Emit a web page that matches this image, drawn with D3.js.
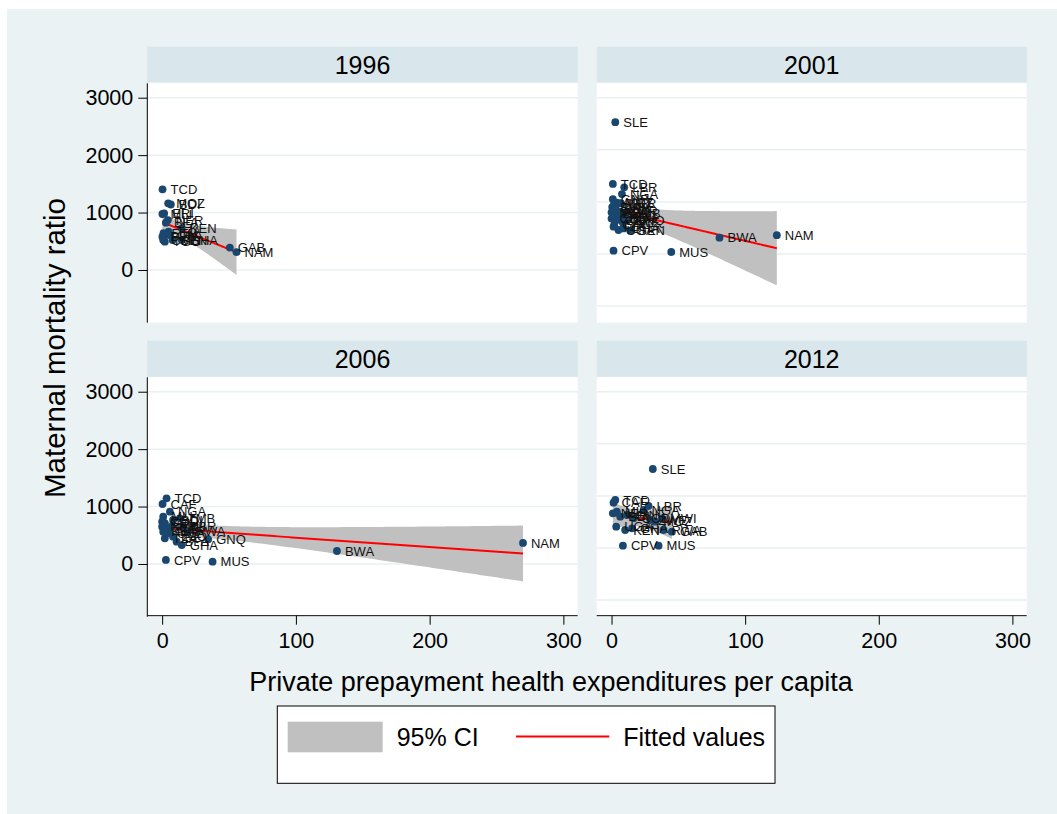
<!DOCTYPE html>
<html><head><meta charset="utf-8">
<script src="https://cdn.jsdelivr.net/npm/d3@7"></script>
<style>body{margin:0;background:#fff}svg{display:block}text{font-family:"Liberation Sans",Arial,sans-serif}</style>
</head><body><svg id="c" width="1057" height="814"></svg>
<script>
// ---------- data ----------
const years = ["1996", "2001", "2006", "2012"];

const codes1996 = ["TCD","MOZ","BDI","ERI","MLI","NER","BFA","KEN","TZA","ETH","CIV","BEN","CMR","SEN","TGO","GHA","GAB","NAM"];
const x1996     = [0.3, 4.5, 6.5, 1.5, 0.2, 4.3, 2.8, 14.7, 4.8, 1.0, 5.2, 0.2, 0.8, 7.8, 2.0, 14.7, 50.6, 55.6];
const y1996     = [1405,1160,1140, 985, 975, 870, 824, 726, 667, 640, 609, 580, 522, 522, 493, 522, 390, 310];

const codes2001 = ["SLE","TCD","LBR","NGA","AGO","MOZ","NER","GNB","MLI","ETH","BFA","CMR","ZMB","COD","CAF","KEN","GNQ","RWA","BEN","TGO","ZWE","GIN","TZA","UGA","GHA","SEN","CPV","MUS","BWA","NAM"];
const x2001     = [2.8, 1.0, 9.5, 7.8, 2.0, 4.0, 7.0, 1.0, 0.0, 1.5, 2.8, 6.5, 10.2, 0.0, 4.0, 7.5, 11.5, 0.5, 3.0, 6.0, 8.5, 2.0, 1.5, 5.2, 9.0, 14.0, 1.5, 44.7, 80.8, 123.7];
const y2001     = [2530,1344,1280,1150, 975, 985, 975,1050, 800, 780, 790, 810, 780, 680, 650, 685, 640, 900, 870, 720, 600, 560, 524, 460, 490, 447, 63, 38, 313, 360];

const codes2006 = ["TCD","CAF","NGA","MLI","BDI","ZMB","COD","ETH","NER","SLE","MWI","LBR","KEN","UGA","TZA","LSO","BFA","GHA","RWA","GNQ","CPV","MUS","BWA","NAM"];
const x2006     = [3.3, 0.3, 5.8, 0.8, 8.2, 13.2, 0.0, 2.0, 0.0, 3.3, 7.0, 15.7, 0.8, 5.2, 2.0, 8.2, 10.8, 14.7, 19.2, 34.4, 2.8, 37.7, 130.7, 269.8];
const y2006     = [1144,1045, 911, 824, 766, 796, 737, 709, 650, 621, 650, 650, 563, 534, 447, 475, 388, 330, 563, 430, 70, 40, 226, 366];

const codes2012 = ["SLE","TCD","CAF","NER","MLI","BDI","GIN","COD","NGA","LBR","ZWE","MOZ","MWI","UGA","KEN","GHA","RWA","GAB","CPV","MUS"];
const x2012     = [30.9, 2.8, 1.5, 1.0, 4.0, 6.5, 11.5, 16.5, 24.0, 27.7, 29.0, 32.7, 37.7, 3.5, 10.2, 15.3, 38.9, 45.2, 8.5, 35.2];
const y2012     = [1516, 921, 870, 666, 697, 601, 633, 570, 729, 806, 537, 505, 570, 409, 345, 378, 345, 313, 44, 44];

const xTicks = [0, 100, 200, 300];
const yTicks = [0, 1000, 2000, 3000];
const yGridRight = [-1000, 0, 1000, 2000, 3000];
const legendLabels = ["95% CI", "Fitted values"];
const xTitle = "Private prepayment health expenditures per capita";
const yTitle = "Maternal mortality ratio";

// ---------- layout ----------
const FONT = '"Liberation Sans", Arial, sans-serif';
const svg = d3.select("#c");
svg.append("rect").attr("x",7).attr("y",9).attr("width",1050).attr("height",805).attr("fill","#eaf2f3");

const cols = [{x0:147.3,x1:577.7,yDom:[-918,3251],grid:yTicks},
              {x0:596.7,x1:1026.7,yDom:[-1319,3276],grid:yGridRight}];
const rows = [{st:46.7,sb:82.3,pt:83.3,pb:322.7},{st:340.7,sb:376.7,pt:377.3,pb:616.7}];
const panels = [
  {year:years[0],codes:codes1996,xs:x1996,ys:y1996,c:0,r:0},
  {year:years[1],codes:codes2001,xs:x2001,ys:y2001,c:1,r:0},
  {year:years[2],codes:codes2006,xs:x2006,ys:y2006,c:0,r:1},
  {year:years[3],codes:codes2012,xs:x2012,ys:y2012,c:1,r:1}
];

function tQuant(df){
  const z=1.959964;
  const g1=(z**3+z)/4, g2=(5*z**5+16*z**3+3*z)/96, g3=(3*z**7+19*z**5+17*z**3-15*z)/384;
  return z+g1/df+g2/df**2+g3/df**3;
}
function lfitci(xs,ys){
  const n=xs.length, mx=d3.mean(xs), my=d3.mean(ys);
  let sxx=0,sxy=0; xs.forEach((x,i)=>{sxx+=(x-mx)**2; sxy+=(x-mx)*(ys[i]-my);});
  const b=sxy/sxx, a=my-b*mx;
  let sse=0; xs.forEach((x,i)=>{sse+=(ys[i]-a-b*x)**2;});
  const s=Math.sqrt(sse/(n-2)), t=tQuant(n-2);
  const [lo,hi]=d3.extent(xs);
  return d3.range(101).map(k=>{
    const x=lo+(hi-lo)*k/100, yh=a+b*x, se=s*Math.sqrt(1/n+(x-mx)**2/sxx);
    return {x, yh, lo:yh-t*se, hi:yh+t*se};
  });
}

panels.forEach(p=>{
  const C=cols[p.c], R=rows[p.r];
  const xs=d3.scaleLinear().domain([-11.1,310.7]).range([C.x0,C.x1]);
  const ys=d3.scaleLinear().domain(C.yDom).range([R.pb,R.pt]);
  const g=svg.append("g");
  // strip
  g.append("rect").attr("x",C.x0).attr("y",R.st).attr("width",C.x1-C.x0).attr("height",R.sb-R.st).attr("fill","#d9e6eb");
  g.append("text").attr("x",(C.x0+C.x1)/2).attr("y",R.st+27.3).attr("text-anchor","middle")
    .attr("font-size",25).attr("fill","#000").text(p.year);
  // plot region
  g.append("rect").attr("x",C.x0).attr("y",R.pt).attr("width",C.x1-C.x0).attr("height",R.pb-R.pt).attr("fill","#fff");
  g.selectAll("line.grid").data(C.grid).join("line").attr("class","grid")
    .attr("x1",C.x0).attr("x2",C.x1).attr("y1",d=>ys(d)).attr("y2",d=>ys(d))
    .attr("stroke","#e8f0f2").attr("stroke-width",1.5);
  // fit + CI
  const f=lfitci(p.xs,p.ys);
  g.append("path").datum(f).attr("fill","#c0c0c0")
    .attr("d",d3.area().x(d=>xs(d.x)).y0(d=>ys(d.lo)).y1(d=>ys(d.hi)));
  g.append("path").datum(f).attr("fill","none").attr("stroke","#ff0000").attr("stroke-width",2)
    .attr("d",d3.line().x(d=>xs(d.x)).y(d=>ys(d.yh)));
  // points
  const pts=p.codes.map((c,i)=>({c,x:p.xs[i],y:p.ys[i]}));
  g.selectAll("circle").data(pts).join("circle").attr("cx",d=>xs(d.x)).attr("cy",d=>ys(d.y))
    .attr("r",3.9).attr("fill","#1a476f");
  g.selectAll("text.lab").data(pts).join("text").attr("class","lab")
    .attr("x",d=>xs(d.x)+8).attr("y",d=>ys(d.y)).attr("dy","0.36em")
    .attr("font-size",13).attr("fill","#111").text(d=>d.c);
  // axes
  if(p.c===0){
    const ax=d3.axisLeft(ys).tickValues(yTicks).tickSize(9).tickPadding(5).tickFormat(d3.format("d"));
    const a=g.append("g").attr("transform",`translate(${C.x0},0)`).call(ax);
    a.select(".domain").attr("d",`M0,${R.pt}V${R.pb}`);
    a.selectAll("text").attr("font-size",21.5).attr("font-family",FONT).attr("fill","#000");
    a.selectAll("line,path").attr("stroke","#000");
  }
  if(p.r===1){
    const ax=d3.axisBottom(xs).tickValues(xTicks).tickSize(9).tickPadding(8).tickFormat(d3.format("d"));
    const a=g.append("g").attr("transform",`translate(0,${R.pb-1})`).call(ax);
    a.select(".domain").attr("d",`M${C.x0},0H${C.x1}`);
    a.selectAll("text").attr("font-size",21.5).attr("font-family",FONT).attr("fill","#000");
    a.selectAll("line,path").attr("stroke","#000");
  }
});

// titles
svg.append("text").attr("x",551).attr("y",691).attr("text-anchor","middle").attr("font-size",27).attr("fill","#000").text(xTitle);
svg.append("text").attr("transform","translate(65,348) rotate(-90)").attr("text-anchor","middle").attr("font-size",29.5).attr("fill","#000").text(yTitle);

// legend
const lg=svg.append("g");
lg.append("rect").attr("x",277.3).attr("y",706).attr("width",497.7).attr("height",77.3).attr("fill","#fff").attr("stroke","#000").attr("stroke-width",1);
lg.append("rect").attr("x",287.7).attr("y",721.7).attr("width",95).attr("height",30.6).attr("fill","#c0c0c0");
lg.append("text").attr("x",396.7).attr("y",746).attr("font-size",25).attr("fill","#000").text(legendLabels[0]);
lg.append("line").attr("x1",516).attr("x2",609.3).attr("y1",736.5).attr("y2",736.5).attr("stroke","#ff0000").attr("stroke-width",2);
lg.append("text").attr("x",623.3).attr("y",746).attr("font-size",25).attr("fill","#000").text(legendLabels[1]);
</script></body></html>
